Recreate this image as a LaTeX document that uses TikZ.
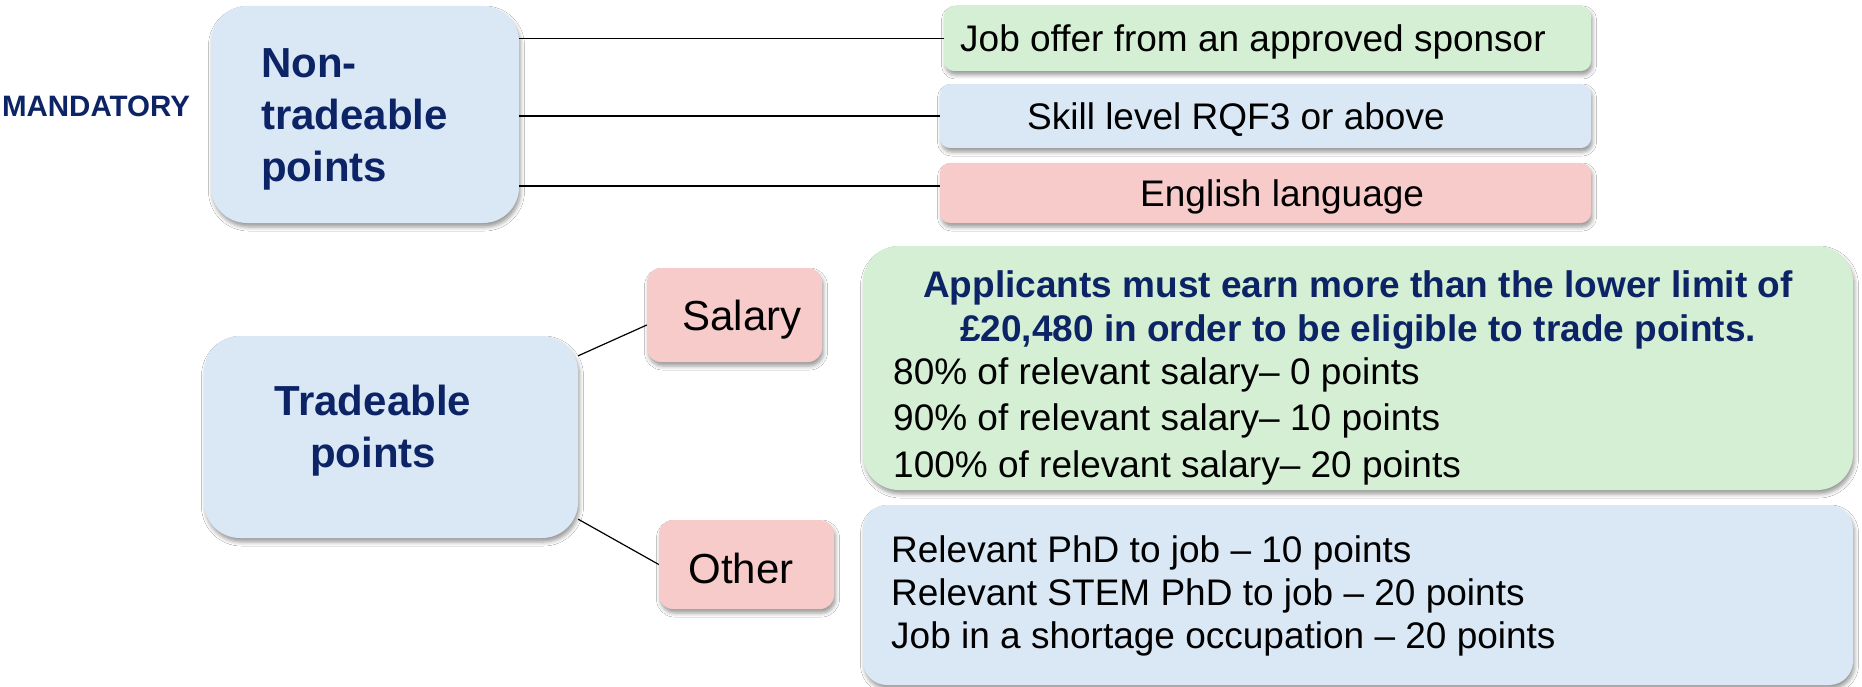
\documentclass[tikz,border=0pt]{standalone}
\usepackage{fontspec}
\setmainfont{Liberation Sans}
\usetikzlibrary{shadows.blur}
\definecolor{navy}{HTML}{0C2466}
\definecolor{lblue}{HTML}{DAE8F6}
\definecolor{lgreen}{HTML}{D4EFD3}
\definecolor{lpink}{HTML}{F6CBCA}
\begin{document}
\begin{tikzpicture}[x=1pt,y=-1pt,
  box/.style={draw=none, rounded corners=#1, inner sep=0pt,
    blur shadow={shadow xshift=1.5pt, shadow yshift=-4pt, shadow blur radius=4pt, shadow opacity=40}},
  box/.default=10pt,
  conn/.style={draw=black, line width=1.2pt},
  head/.style={text=navy, font=\fontsize{42}{52}\selectfont\bfseries, inner sep=0pt},
  body/.style={text=black, font=\fontsize{37}{46.5}\selectfont, inner sep=0pt},
  bhead/.style={text=navy, font=\fontsize{37}{44}\selectfont\bfseries, inner sep=0pt}]
\useasboundingbox (0,0) rectangle (1862,687);
\fill[white] (0,0) rectangle (1862,687);

% label
\node[text=navy, font=\fontsize{29.5}{33}\selectfont\bfseries, inner sep=0pt] (mand) at (96,106) {MANDATORY};

% main boxes
\node[box=36pt, fill=lblue, minimum width=308pt, minimum height=217pt] (nt) at (365,114.5) {};
\node[head, anchor=west, align=left] (ntt) at (261,119) {Non-\\tradeable\\points};

\node[box=10pt, fill=lgreen, minimum width=647pt, minimum height=65pt] (job) at (1267.5,38.5) {};
\node[body, anchor=west] (jobt) at (960,41.5) {Job offer from an approved sponsor};

\node[box=10pt, fill=lblue, minimum width=651pt, minimum height=64pt] (skill) at (1265.5,116) {};
\node[body, anchor=west] (skillt) at (1027,119.5) {Skill level RQF3 or above};

\node[box=10pt, fill=lpink, minimum width=651pt, minimum height=60pt] (eng) at (1265.5,193) {};
\node[body, anchor=west] (engt) at (1140,197) {English language};

\node[box=36pt, fill=lblue, minimum width=374pt, minimum height=202pt] (trad) at (391,437) {};
\node[head, align=center] (tradt) at (373,431) {Tradeable\\points};

\node[box=14pt, fill=lpink, minimum width=175pt, minimum height=94pt] (sal) at (734.5,315) {};
\node[body, font=\fontsize{42}{50}\selectfont] (salt) at (742,319.5) {Salary};

\node[box=14pt, fill=lpink, minimum width=175pt, minimum height=89pt] (oth) at (746.5,564.5) {};
\node[body, font=\fontsize{42}{50}\selectfont] (otht) at (741,568) {Other};

\node[box=36pt, fill=lgreen, minimum width=990pt, minimum height=244pt] (green) at (1358,368) {};
\node[bhead, align=center] (greenh) at (1358,310) {Applicants must earn more than the lower limit of\\\pounds20,480 in order to be eligible to trade points.};
\node[body, anchor=west, align=left] (greenl) at (893,421) {80\% of relevant salary-- 0 points\\90\% of relevant salary-- 10 points\\100\% of relevant salary-- 20 points};

\node[box=24pt, fill=lblue, minimum width=990pt, minimum height=180pt] (blue) at (1358,595) {};
\node[body, anchor=west, align=left, font=\fontsize{37}{43}\selectfont] (bluel) at (891,596) {Relevant PhD to job -- 10 points\\Relevant STEM PhD to job -- 20 points\\Job in a shortage occupation -- 20 points};

% connectors
\draw[conn] (job.west) -- (job.west -| nt.east);
\draw[conn] (skill.west) -- (skill.west -| nt.east);
\path ([yshift=7pt]eng.west) coordinate (engin);
\draw[conn] (engin) -- (engin -| nt.east);
\draw[conn] ([yshift=-20pt]trad.north east) -- ([yshift=-10pt]sal.west);
\draw[conn] ([yshift=19pt]trad.south east) -- (oth.west);
\end{tikzpicture}
\end{document}
